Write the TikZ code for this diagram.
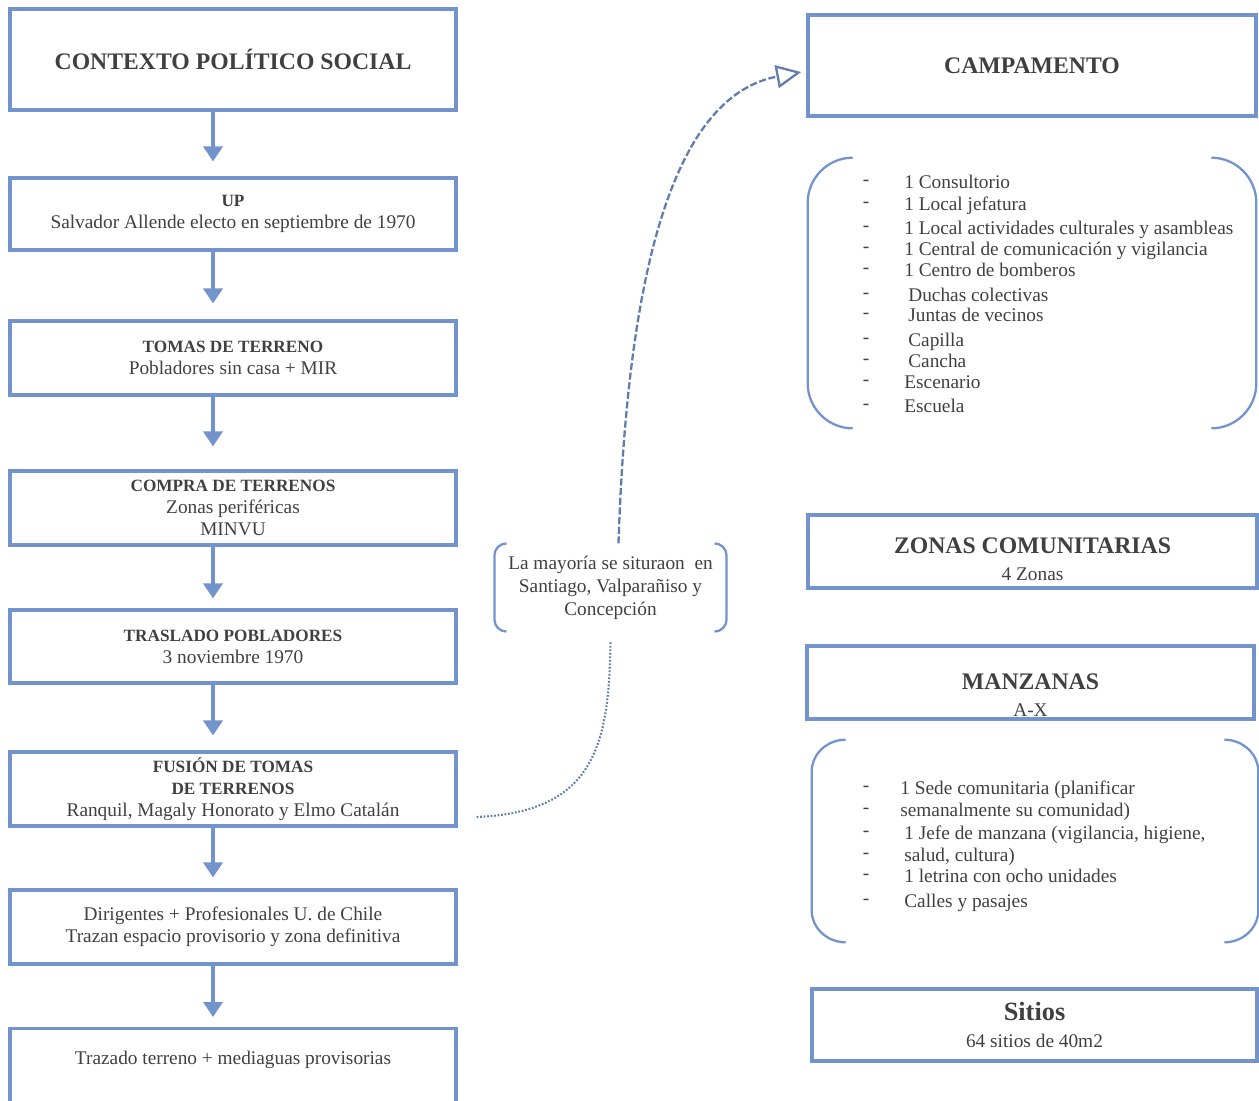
\documentclass[tikz,border=0pt]{standalone}
\usepackage{fontspec}
\setmainfont{Liberation Serif}
\usepackage{tikz}
\usetikzlibrary{arrows.meta,positioning,calc}

\definecolor{boxblue}{RGB}{114,147,203}
\definecolor{inkgray}{RGB}{64,64,64}

\newcommand{\bigtitle}[1]{{\fontsize{13.5}{15}\selectfont\bfseries #1}}
\newcommand{\subtitle}[1]{{\fontsize{9.8}{12.5}\selectfont\bfseries #1}}

% round brackets on both sides of a node: node, reach x, reach y
\newcommand{\parens}[3]{%
  \draw[brace] ($(#1.north west)+(#2,0)$) .. controls ($(#1.north west)+(0.45*#2,0)$) and ($(#1.north west)+(0,0.45*#3)$) .. ($(#1.north west)+(0,#3)$)
    -- ($(#1.south west)+(0,-#3)$) .. controls ($(#1.south west)+(0,-0.45*#3)$) and ($(#1.south west)+(0.45*#2,0)$) .. ($(#1.south west)+(#2,0)$);
  \draw[brace] ($(#1.north east)+(-#2,0)$) .. controls ($(#1.north east)+(-0.45*#2,0)$) and ($(#1.north east)+(0,0.45*#3)$) .. ($(#1.north east)+(0,#3)$)
    -- ($(#1.south east)+(0,-#3)$) .. controls ($(#1.south east)+(0,-0.45*#3)$) and ($(#1.south east)+(-0.45*#2,0)$) .. ($(#1.south east)+(-#2,0)$);
}

\tikzset{
  box/.style={draw=boxblue, line width=1.8pt, minimum width=8.92cm, inner sep=0pt,
    align=center, text=inkgray, font=\fontsize{11}{12.5}\selectfont},
  frame/.style={inner sep=0pt},
  flow/.style={draw=boxblue, line width=2pt, -{Triangle[length=0.3cm,width=0.38cm]}},
  brace/.style={draw=boxblue, line width=1.3pt},
  dashlink/.style={draw=boxblue!85!black, line width=1.3pt, dash pattern=on 4pt off 1.5pt,
    -{Triangle[open,length=0.5cm,width=0.46cm]}},
  dotlink/.style={draw=boxblue!85!black, line width=1.2pt, dash pattern=on 1pt off 1pt},
  hyphen/.style={inner sep=0pt, text=inkgray, font=\fontsize{11}{13}\selectfont},
  item/.style={anchor=west, inner sep=0pt, text=inkgray, font=\fontsize{11}{13}\selectfont,
    text height=1.6ex, text depth=0.3ex},
}

\begin{document}
\begin{tikzpicture}[x=0.02cm,y=-0.02cm]
  \useasboundingbox (0,0) rectangle (1259,1100);

  % left column: sequence of events
  \node[box, minimum height=2.02cm] (ctx) at (233,59.5) {\bigtitle{CONTEXTO POLÍTICO SOCIAL}};
  \node[box, minimum height=1.44cm] (up) at (233,214)
    {\subtitle{UP}\\Salvador Allende electo en septiembre de 1970};
  \node[box, minimum height=1.48cm] (tomas) at (233,358)
    {\subtitle{TOMAS DE TERRENO}\\Pobladores sin casa + MIR};
  \node[box, minimum height=1.48cm] (compra) at (233,508)
    {\subtitle{COMPRA DE TERRENOS}\\Zonas periféricas\\MINVU};
  \node[box, minimum height=1.46cm] (traslado) at (233,646.5)
    {\subtitle{TRASLADO POBLADORES}\\3 noviembre 1970};
  \node[box, minimum height=1.48cm] (fusion) at (233,789)
    {\subtitle{FUSIÓN DE TOMAS}\\\subtitle{DE TERRENOS}\\Ranquil, Magaly Honorato y Elmo Catalán};
  \node[box, minimum height=1.48cm] (dirig) at (233,927)
    {Dirigentes + Profesionales U. de Chile\\Trazan espacio provisorio y zona definitiva};
  \node[box, minimum height=1.66cm, anchor=north] (trazado) at (233,1027)
    {Trazado terreno + mediaguas provisorias\rule[-0.5cm]{0pt}{0pt}};

  \foreach \a/\b/\g in {ctx/up/0.3, up/tomas/0.32, tomas/compra/0.46, compra/traslado/0.2,
      traslado/fusion/0.3, fusion/dirig/0.22, dirig/trazado/0.2}
    \draw[flow] ([xshift=-0.4cm]\a.south) -- ([xshift=-0.4cm,yshift=\g cm]\b.north);

  % note between the columns
  \node[box, draw=none, minimum width=4.58cm, minimum height=1.7cm, font=\fontsize{11}{13}\selectfont]
    (nota) at (610.5,587.5) {La mayoría se situraon \ en\\Santiago, Valparañiso y\\Concepción};
  \parens{nota}{12}{12}

  % right column: the camp
  \node[box, minimum width=8.96cm, minimum height=2.02cm] (camp) at (1032,65.5) {\bigtitle{CAMPAMENTO}};

  \node[frame, minimum width=8.96cm, minimum height=5.4cm] (servicios) at (1032,293) {};
  \parens{servicios}{45}{45}
  \foreach \y/\x/\t [count=\i] in {183/904/1 Consultorio, 205/904/1 Local jefatura,
      229/904/1 Local actividades culturales y asambleas,
      250/904/1 Central de comunicación y vigilancia, 271/904/1 Centro de bomberos,
      296/908/Duchas colectivas, 316/908/Juntas de vecinos, 341/908/Capilla,
      362/908/Cancha, 383/904/Escenario, 407/904/Escuela}{
    \node[hyphen] (sh\i) at (866,\y) {-};
    \node[item] (si\i) at (\x,\y) {\t};
  }

  \node[box, minimum width=8.98cm, minimum height=1.46cm] (zonas) at (1032.5,551.5)
    {\rule{0pt}{0.62cm}\bigtitle{ZONAS COMUNITARIAS}\\[3pt]4 Zonas};
  \node[box, minimum width=8.94cm, minimum height=1.46cm] (manz) at (1030.5,682.5)
    {\rule{0pt}{0.82cm}\bigtitle{MANZANAS}\\[3pt]A-X};

  \node[frame, minimum width=8.92cm, minimum height=4.04cm] (reglas) at (1035,841) {};
  \parens{reglas}{34}{32}
  \foreach \y/\x/\t [count=\i] in {789/900/1 Sede comunitaria (planificar,
      811/900/semanalmente su comunidad), 834/904/{1 Jefe de manzana (vigilancia, higiene,},
      856/904/{salud, cultura)}, 877/904/1 letrina con ocho unidades, 902/904/Calles y pasajes}{
    \node[hyphen] (mh\i) at (866,\y) {-};
    \node[item] (mi\i) at (\x,\y) {\t};
  }

  \node[box, minimum width=8.9cm, minimum height=1.44cm] (sitios) at (1034.5,1025)
    {{\fontsize{15}{17}\selectfont\bfseries Sitios}\\[3pt]64 sitios de 40m2};

  % links through the note
  \draw[dotlink] ([xshift=0.38cm,yshift=-0.56cm]fusion.east) .. controls (595,812) and (609,745)
    .. ([yshift=-0.2cm]nota.south);
  \draw[dashlink] ([xshift=0.16cm]nota.north) .. controls (628,250) and (680,95)
    .. ([xshift=-3pt,yshift=-0.13cm]camp.west);

\end{tikzpicture}
\end{document}
